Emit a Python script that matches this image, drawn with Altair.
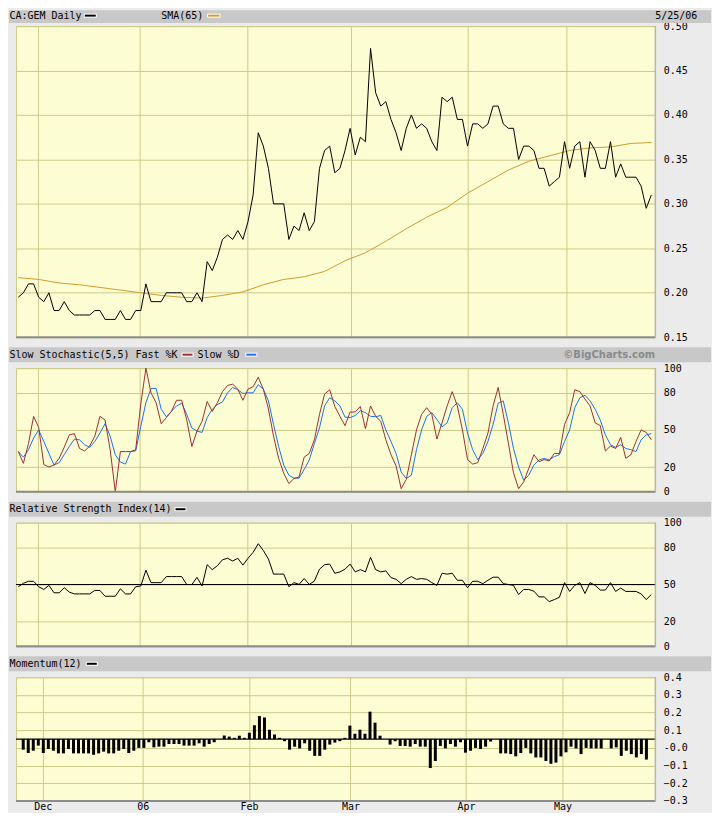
import json
import altair as alt
import pandas as pd

# ---------------- data ----------------
price = [0.195, 0.20, 0.21, 0.21, 0.195, 0.19, 0.20, 0.18, 0.18, 0.19,
         0.18, 0.175, 0.175, 0.175, 0.175, 0.18, 0.18, 0.17, 0.17, 0.17,
         0.18, 0.17, 0.17, 0.18, 0.18, 0.21, 0.19, 0.19, 0.19, 0.20,
         0.20, 0.20, 0.20, 0.19, 0.19, 0.20, 0.19, 0.235, 0.225, 0.24,
         0.26, 0.265, 0.26, 0.27, 0.26, 0.28, 0.31, 0.38, 0.365, 0.34,
         0.30, 0.30, 0.30, 0.26, 0.275, 0.27, 0.29, 0.27, 0.28, 0.34,
         0.36, 0.365, 0.335, 0.34, 0.36, 0.385, 0.355, 0.375, 0.37, 0.475,
         0.425, 0.41, 0.415, 0.395, 0.38, 0.36, 0.385, 0.40, 0.385, 0.39,
         0.385, 0.37, 0.36, 0.42, 0.415, 0.42, 0.395, 0.395, 0.365, 0.39,
         0.39, 0.385, 0.39, 0.41, 0.41, 0.39, 0.385, 0.385, 0.35, 0.365,
         0.365, 0.36, 0.34, 0.34, 0.32, 0.325, 0.33, 0.37, 0.34, 0.365,
         0.37, 0.33, 0.37, 0.36, 0.34, 0.34, 0.37, 0.33, 0.345, 0.33,
         0.33, 0.33, 0.32, 0.295, 0.31]

sma_day = [0, 4, 8, 12, 16, 20, 24, 28, 32, 36, 40, 44, 48, 52, 56, 60,
           64, 68, 72, 76, 80, 84, 88, 92, 96, 100, 104, 108, 112, 116, 120, 124]
sma_val = [0.217, 0.215, 0.211, 0.209, 0.206, 0.203, 0.200, 0.197, 0.195, 0.194,
           0.197, 0.201, 0.209, 0.215, 0.218, 0.224, 0.236, 0.245, 0.258, 0.272,
           0.285, 0.296, 0.312, 0.325, 0.338, 0.348, 0.354, 0.360, 0.363, 0.364,
           0.368, 0.369]

stoch_k = [32.5, 23, 39, 61, 52, 22, 20, 21.6, 27, 36,
           46, 47, 35, 33, 37, 45, 61, 58, 34, 0,
           32.5, 32.5, 32.5, 34, 71, 100, 80, 72, 55, 60,
           65, 74, 74, 58, 36.6, 49, 57, 73, 65, 72,
           81, 86, 87, 83, 74, 83, 85, 92.6, 83, 67,
           45, 27, 15, 6.6, 10.7, 12, 28, 31, 42, 62.6,
           79, 82.5, 69, 61, 53.5, 64.5, 64.5, 69, 51, 69.4,
           61, 57, 42, 30, 21, 2.5, 10, 30, 50, 62.6,
           68, 62.6, 42.6, 55.7, 69.4, 81, 69.4, 50, 26, 22.4,
           23.5, 35, 47.5, 69.4, 84.4, 62.6, 39.3, 15.3, 2.5, 8,
           19, 30, 24.3, 26, 25, 31, 31, 54.4, 64, 82.5,
           81, 75, 69.4, 55.7, 53.5, 33, 37, 35, 44, 27,
           30, 40.7, 50, 48, 42]

stoch_d = [32.5, 28, 34, 43.4, 50, 40.7, 31, 21.6, 23.5, 30,
           36.6, 42.6, 42, 38, 36, 40.7, 47.5, 55, 45, 30,
           24, 22.4, 32.5, 33, 53, 72, 83.6, 83.6, 66.7, 60.7,
           65, 69.4, 71.6, 62.6, 51.6, 49, 48, 60, 66.7, 70.5,
           72.7, 80, 84.4, 82.5, 79.5, 80, 80, 86.6, 83, 73.5,
           54.4, 36.6, 21.6, 13.4, 11, 11, 18, 25.7, 39, 51.6,
           69.4, 76, 73.5, 69.4, 60.4, 60, 61.7, 65.5, 64, 61,
           60.7, 61.7, 50, 40.7, 31, 16, 10.7, 13.4, 34, 50,
           61, 64, 58.5, 52.5, 55.7, 68, 72, 66.7, 47.5, 34,
           26, 31, 40.7, 54.4, 71.6, 73.5, 55.7, 35, 20, 9.3,
           13.4, 21.6, 25.7, 27, 25.7, 28.4, 30, 40.7, 50, 68,
           76, 78, 73.5, 66.7, 58, 46, 38, 36, 38, 35,
           34, 32.5, 42, 46, 47]

rsi = [48.2, 51, 52.6, 52.6, 48.2, 46, 49.3, 43.3, 43.3, 47.4,
       43.8, 42.4, 42.4, 42.4, 42.4, 45.2, 45.2, 40.5, 40.5, 40.5,
       46.5, 42.4, 42.4, 48.2, 48.8, 61.6, 51.5, 51.5, 51.5, 56.4,
       56.4, 56.4, 56.4, 50, 50, 55.8, 48.8, 66, 62, 65.2,
       70, 71.2, 69, 71.2, 65.7, 71.2, 76, 83, 77.5, 70.6,
       58.4, 58.4, 58.4, 48.2, 51.5, 50.1, 54.8, 50.1, 52.8, 62.4,
       66, 66.5, 59.1, 60.2, 62.4, 66.5, 60.2, 62, 60.2, 72,
       62, 60.2, 61, 55.6, 54.2, 50.7, 54.2, 56.4, 54.2, 54.8,
       54.2, 51.5, 49.3, 59.1, 58.4, 59.1, 53.4, 53.4, 47.4, 52.6,
       52.6, 50.7, 53.4, 55.9, 55.9, 50.7, 50, 49.3, 41.9, 46,
       46, 44.6, 40, 40, 36.2, 37.8, 39.7, 51.5, 44.4, 49.3,
       51.5, 42.7, 51.5, 49.3, 45.5, 45.5, 51.5, 44.4, 47.1, 44.4,
       44.4, 44.4, 42.4, 37.8, 41.9]

momentum = [-0.01, -0.029, -0.016, 0.013, -0.029, -0.006, -0.016, -0.031, -0.031, -0.006,
            -0.031, -0.031, -0.031, -0.031, -0.039, -0.031, -0.021, -0.031, -0.031, -0.016,
            -0.006, -0.029, -0.016, 0.0, 0.0, 0.032, 0.003, 0.007, 0.007, 0.022,
            0.022, 0.022, 0.013, 0.013, 0.013, 0.026, 0.007, 0.022, 0.032, 0.05,
            0.07, 0.064, 0.057, 0.069, 0.057, 0.086, 0.128, 0.18, 0.172, 0.103,
            0.076, 0.057, 0.038, -0.01, 0.007, -0.003, 0.026, -0.016, -0.045, -0.045,
            -0.01, 0.019, 0.03, 0.038, 0.057, 0.126, 0.08, 0.103, 0.08, 0.205,
            0.143, 0.069, 0.05, 0.019, 0.038, 0.011, 0.011, 0.007, 0.022, 0.007,
            0.007, -0.114, -0.074, 0.011, -0.003, 0.022, 0.007, 0.032, -0.027, -0.016,
            0.0, -0.006, 0.007, 0.036, 0.05, -0.031, -0.031, -0.035, -0.048, -0.029,
            0.0, -0.031, -0.054, -0.054, -0.074, -0.09, -0.083, -0.048, -0.025, 0.007,
            -0.003, -0.035, 0.0, -0.003, -0.003, -0.003, 0.05, -0.003, 0.003, -0.045,
            -0.016, -0.035, -0.054, -0.035, -0.066]

day = list(range(len(price)))

month_pos = [3.9, 23.8, 44.9, 65.1, 88.1, 107.3]
month_labels = ["Dec", "06", "Feb", "Mar", "Apr", "May"]
price_ticks = [0.15, 0.20, 0.25, 0.30, 0.35, 0.40, 0.45, 0.50]
osc_ticks = [0, 20, 50, 80, 100]
mom_ticks = [-0.3, -0.2, -0.1, 0.0, 0.1, 0.2, 0.3, 0.4]
rsi_mid = 50
mom_base = 0.05

df = pd.DataFrame({"day": day, "price": price, "k": stoch_k, "d": stoch_d,
                   "rsi": rsi, "mom": momentum})
sma_df = pd.DataFrame({"day": sma_day, "sma": sma_val})
one = pd.DataFrame({"z": [0]})

# ---------------- style ----------------
W = 641
H_MAIN = 312
H_SUB = 124
XDOM = [-0.45, 124.75]
BG = "#ebebeb"
HEAD = "#c8c8c8"
PLOT = "#fdfdd3"
GRID = "#cccb8d"
FONT = "DejaVu Sans Mono"
SMA_C = "#d39b2f"
K_C = "#9c3030"
D_C = "#1c6ff0"

X_LABEL_EXPR = "%s[indexof(%s, datum.value)]" % (json.dumps(month_labels), json.dumps(month_pos))


def x_enc(show_labels=False):
    return alt.X("day:Q",
                 scale=alt.Scale(domain=XDOM, nice=False, zero=False),
                 axis=alt.Axis(values=month_pos, grid=True, gridColor=GRID, gridWidth=1,
                               ticks=False, domain=False, labels=show_labels,
                               labelExpr=X_LABEL_EXPR, labelFont=FONT, labelFontSize=10,
                               labelColor="black", labelPadding=0.5, labelFlush=False,
                               labelOverlap=False, title=None))


def y_axis(values, fmt=None, expr=None):
    kw = dict(orient="right", values=values, grid=True, gridColor=GRID, gridWidth=1,
              ticks=False, domain=False, labelFont=FONT, labelFontSize=10,
              labelColor="black", labelPadding=8, labelFlush=False,
              labelOverlap=False, title=None)
    if fmt:
        kw["format"] = fmt
    if expr:
        kw["labelExpr"] = expr
    return alt.Axis(**kw)


def deco_rect(x, x2, y, y2, color):
    return alt.Chart(one).mark_rect(color=color).encode(
        x=alt.value(x), x2=alt.value(x2), y=alt.value(y), y2=alt.value(y2))


def swatch(x, x2, yc, color):
    return [deco_rect(x, x2, yc - 2, yc + 2, "white"),
            deco_rect(x + 1, x2 - 1, yc - 1, yc + 1, color)]


def deco_text(x, y, s, align="left", font=FONT, color="black", weight="normal"):
    return alt.Chart(one).mark_text(align=align, baseline="middle", font=font,
                                    fontSize=10, color=color, fontWeight=weight).encode(
        x=alt.value(x), y=alt.value(y), text=alt.value(s))


def borders(h):
    bottom = alt.Chart(one).mark_rule(color="#8c8c8c", strokeWidth=2).encode(
        x=alt.value(0), x2=alt.value(W), y=alt.value(h))
    right = alt.Chart(one).mark_rule(color="#a8a8a8", strokeWidth=1).encode(
        x=alt.value(W), y=alt.value(0), y2=alt.value(h))
    return [bottom, right]


# ---------------- main price panel ----------------
price_scale = alt.Scale(domain=[0.15, 0.50], nice=False, zero=False)
price_axis = y_axis(price_ticks, fmt=".2f")
main = alt.layer(
    deco_rect(-7, 697, -16, -3, HEAD),
    deco_text(-6.5, -10.5, "CA:GEM Daily"),
    *swatch(68, 81, -10.5, "black"),
    deco_text(145.7, -10.5, "SMA(65)"),
    *swatch(191.7, 205, -10.5, SMA_C),
    deco_text(683.3, -10.5, "5/25/06", align="right"),
    alt.Chart(sma_df).mark_line(color=SMA_C, strokeWidth=1).encode(
        x=x_enc(), y=alt.Y("sma:Q", scale=price_scale, axis=price_axis)),
    alt.Chart(df).mark_line(color="black", strokeWidth=1).encode(
        x=x_enc(), y=alt.Y("price:Q", scale=price_scale, axis=price_axis)),
    *borders(H_MAIN),
).properties(width=W, height=H_MAIN)

# ---------------- stochastic panel ----------------
osc_scale = alt.Scale(domain=[0, 100], nice=False, zero=False)
osc_axis = y_axis(osc_ticks)
stoch = alt.layer(
    deco_rect(-7, 697, -21, -6, HEAD),
    deco_text(-6.5, -13.5, "Slow Stochastic(5,5) Fast %K"),
    *swatch(166, 178, -13.5, K_C),
    deco_text(182, -13.5, "Slow %D"),
    *swatch(230, 242, -13.5, D_C),
    deco_text(641, -13.5, "©BigCharts.com", align="right", font="DejaVu Sans",
              color="#8a8a8a", weight="bold"),
    alt.Chart(df).mark_line(color=D_C, strokeWidth=1).encode(
        x=x_enc(), y=alt.Y("d:Q", scale=osc_scale, axis=osc_axis)),
    alt.Chart(df).mark_line(color=K_C, strokeWidth=1).encode(
        x=x_enc(), y=alt.Y("k:Q", scale=osc_scale, axis=osc_axis)),
    *borders(H_SUB),
).properties(width=W, height=H_SUB)

# ---------------- RSI panel ----------------
rsi_panel = alt.layer(
    deco_rect(-7, 697, -21, -6, HEAD),
    deco_text(-6.5, -13.5, "Relative Strength Index(14)"),
    *swatch(159, 171, -13.5, "black"),
    alt.Chart(df).mark_line(color="black", strokeWidth=1).encode(
        x=x_enc(), y=alt.Y("rsi:Q", scale=osc_scale, axis=osc_axis)),
    alt.Chart(one).mark_rule(color="black", strokeWidth=1.2).encode(
        y=alt.YDatum(rsi_mid, scale=osc_scale, axis=osc_axis)),
    *borders(H_SUB),
).properties(width=W, height=H_SUB)

# ---------------- momentum panel ----------------
mom_scale = alt.Scale(domain=[-0.3, 0.4], nice=False, zero=False)
mom_axis = y_axis(mom_ticks, expr="abs(datum.value) < 0.001 ? '-0.0' : format(datum.value, '.1f')")
mom_panel = alt.layer(
    deco_rect(-7, 697, -21, -6, HEAD),
    deco_text(-6.5, -13.5, "Momentum(12)"),
    *swatch(70, 82, -13.5, "black"),
    alt.Chart(df).mark_bar(color="black", size=3).encode(
        x=x_enc(True), y=alt.Y("mom:Q", scale=mom_scale, axis=mom_axis),
        y2=alt.datum(mom_base)),
    alt.Chart(one).mark_rule(color="black", strokeWidth=1.2).encode(
        y=alt.YDatum(mom_base, scale=mom_scale, axis=mom_axis)),
    *borders(H_SUB),
).properties(width=W, height=H_SUB)

chart = alt.vconcat(main, stoch, rsi_panel, mom_panel, spacing=31, bounds="flush").properties(
    padding=0, background=BG
).configure_view(
    fill=PLOT, stroke=GRID, strokeWidth=1
).configure_axis(
    labelOverlap=False, labelFlush=False
)

chart.save("out.html", embed_options={"renderer": "svg", "actions": False})
